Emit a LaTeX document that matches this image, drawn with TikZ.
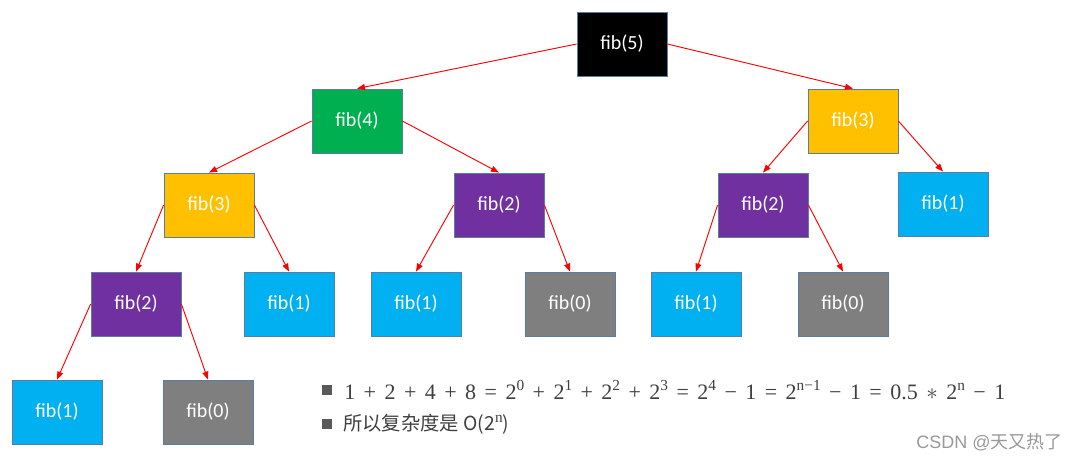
\documentclass[tikz,border=0pt]{standalone}
\usepackage{fontspec}
\setmainfont{Carlito}
\newfontfamily\cjkfont{Noto Sans CJK SC}
\newfontfamily\serifnum{Liberation Serif}
\newfontfamily\arialfont{Liberation Sans}
\usetikzlibrary{arrows.meta}
\definecolor{boxline}{HTML}{5A7DA5}
\definecolor{fbgreen}{HTML}{00B050}
\definecolor{fbyellow}{HTML}{FFC000}
\definecolor{fbpurple}{HTML}{7030A0}
\definecolor{fbblue}{HTML}{00B0F0}
\definecolor{fbgray}{HTML}{7F7F7F}
\definecolor{txtgray}{HTML}{404040}
\definecolor{bulgray}{HTML}{595959}
\definecolor{wmgray}{HTML}{999999}
\newcommand{\sups}[1]{\raisebox{0.42em}{\fontsize{11.5}{12}\selectfont #1}}
\begin{document}
\begin{tikzpicture}[x=0.75pt,y=-0.75pt,
  fibbox/.style={draw=boxline, line width=0.6pt, minimum width=67.5pt, minimum height=48pt,
    inner sep=0pt, text=white, font=\fontsize{15}{18}\selectfont},
  edge/.style={draw=red, line width=0.7pt, -{Triangle[length=6pt,width=4.5pt]}},
  bulletsq/.style={fill=bulgray, minimum size=7.5pt, inner sep=0pt},
  mathline/.style={text=txtgray, inner sep=0pt, anchor=west, font=\serifnum\fontsize{16.5}{19}\selectfont},
]
\useasboundingbox[fill=white] (0,0) rectangle (1076,461);

\node[fibbox, fill=black]    (f5)   at (622,44)  {fib(5)};
\node[fibbox, fill=fbgreen]  (f4)   at (357,121) {fib(4)};
\node[fibbox, fill=fbyellow] (f3r)  at (853,121) {fib(3)};
\node[fibbox, fill=fbyellow] (f3l)  at (209,205) {fib(3)};
\node[fibbox, fill=fbpurple] (f2m)  at (499,205) {fib(2)};
\node[fibbox, fill=fbpurple] (f2r)  at (763,205) {fib(2)};
\node[fibbox, fill=fbblue]   (f1r)  at (943,204) {fib(1)};
\node[fibbox, fill=fbpurple] (f2l)  at (136,304) {fib(2)};
\node[fibbox, fill=fbblue]   (f1a)  at (289,304) {fib(1)};
\node[fibbox, fill=fbblue]   (f1b)  at (416,304) {fib(1)};
\node[fibbox, fill=fbgray]   (f0a)  at (570,304) {fib(0)};
\node[fibbox, fill=fbblue]   (f1c)  at (696,304) {fib(1)};
\node[fibbox, fill=fbgray]   (f0b)  at (843,304) {fib(0)};
\node[fibbox, fill=fbblue]   (f1d)  at (57,412)  {fib(1)};
\node[fibbox, fill=fbgray]   (f0c)  at (208,412) {fib(0)};

\draw[edge] (f5.west) -- (f4.north);
\draw[edge] (f5.east) -- (f3r.north);
\draw[edge] (f4.west) -- (f3l.north);
\draw[edge] (f4.east) -- (f2m.north);
\draw[edge] (f3r.west) -- (f2r.north);
\draw[edge] (f3r.east) -- (f1r.north);
\draw[edge] (f3l.west) -- (f2l.north);
\draw[edge] (f3l.east) -- (f1a.north);
\draw[edge] (f2m.west) -- (f1b.north);
\draw[edge] (f2m.east) -- (f0a.north);
\draw[edge] (f2r.west) -- (f1c.north);
\draw[edge] (f2r.east) -- (f0b.north);
\draw[edge] (f2l.west) -- (f1d.north);
\draw[edge] (f2l.east) -- (f0c.north);

\node[bulletsq] (b1) at (327,390) {};
\node[bulletsq] (b2) at (327,424) {};
\node[mathline] (l1) at (344,390) {\makebox[495.75pt][s]{1 + 2 + 4 + 8 = 2\sups{0} + 2\sups{1} + 2\sups{2} + 2\sups{3} = 2\sups{4} − 1 = 2\sups{n−1} − 1 = 0.5 $\ast$ 2\sups{n} − 1}};
\node[text=txtgray, inner sep=0pt, anchor=west, font=\cjkfont\fontsize{14.5}{18}\selectfont] (l2) at (343,424)
  {所以复杂度是 O(2{\serifnum\sups{n}})};
\node[text=wmgray, inner sep=0pt, anchor=east, font=\fontsize{13.5}{16}\selectfont] (wm) at (1063,442)
  {{\arialfont CSDN @}{\cjkfont 天又热了}};
\end{tikzpicture}
\end{document}
